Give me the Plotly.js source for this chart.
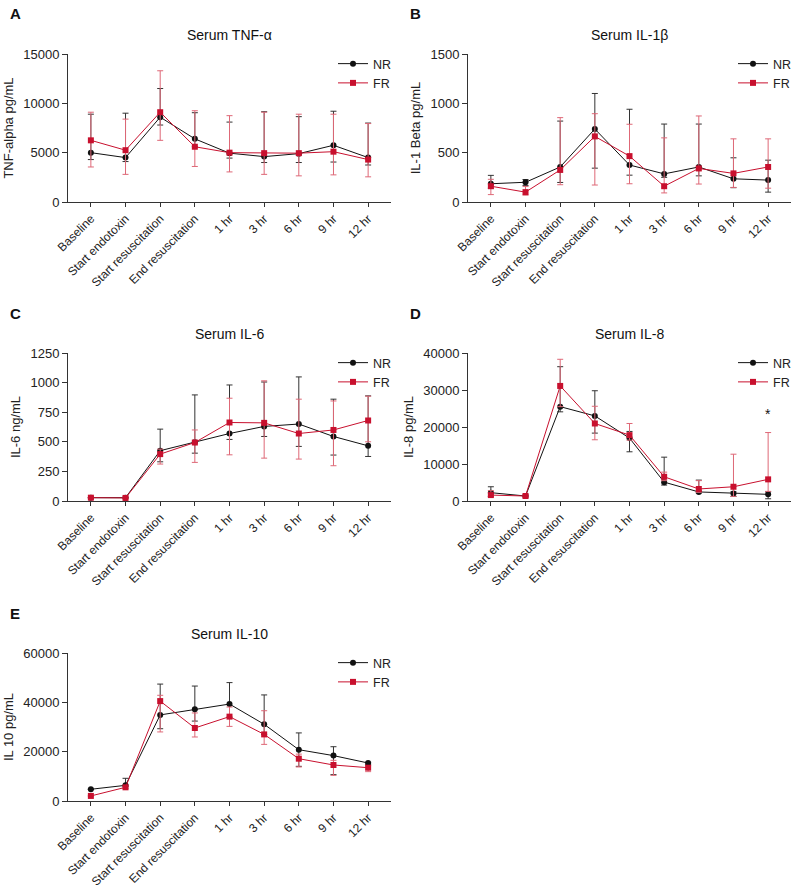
<!DOCTYPE html>
<html>
<head>
<meta charset="utf-8">
<script src="https://cdn.plot.ly/plotly-3.0.1.min.js"></script>
<style>
  html, body { margin: 0; padding: 0; background: #fff; }
  #grafica { width: 800px; height: 890px; }
</style>
</head>
<body>
<div id="grafica"></div>
<script>
// ---------- Datos ----------
const tiempos = ["Baseline", "Start endotoxin", "Start resuscitation", "End resuscitation",
                 "1 hr", "3 hr", "6 hr", "9 hr", "12 hr"];

// Serum TNF-alpha
const tnfNR      = [5000, 4500, 8600, 6400, 4950, 4600, 4900, 5750, 4500];
const tnfNRalto  = [8900, 9000, 11500, 9050, 8100, 9150, 8650, 9200, 8000];
const tnfNRbajo  = [4300, 4100, 7800, 5600, 4450, 4000, 4000, 4050, 3750];
const tnfFR      = [6250, 5250, 9100, 5600, 5000, 4950, 4950, 5100, 4300];
const tnfFRalto  = [9100, 8400, 13300, 9250, 8750, 9100, 8900, 8900, 7950];
const tnfFRbajo  = [3550, 2800, 6250, 3600, 3050, 2800, 2650, 2750, 2550];

// Serum IL-1 beta
const il1NR      = [185, 200, 355, 740, 375, 285, 355, 235, 222];
const il1NRalto  = [270, 228, 820, 1100, 940, 790, 790, 448, 424];
const il1NRbajo  = [140, 168, 198, 343, 272, 250, 265, 145, 100];
const il1FR      = [160, 100, 325, 665, 465, 160, 340, 290, 355];
const il1FRalto  = [230, 158, 855, 895, 788, 650, 872, 640, 640];
const il1FRbajo  = [75, 70, 175, 172, 185, 92, 182, 148, 140];

// Serum IL-6
const il6NR      = [28, 28, 425, 497, 570, 630, 650, 545, 466];
const il6NRalto  = [28, 28, 607, 896, 980, 1005, 1048, 860, 888];
const il6NRbajo  = [28, 28, 331, 404, 520, 545, 461, 388, 376];
const il6FR      = [28, 26, 396, 494, 663, 660, 570, 600, 680];
const il6FRalto  = [28, 26, 438, 600, 868, 1015, 860, 845, 885];
const il6FRbajo  = [28, 26, 312, 326, 390, 362, 354, 298, 500];

// Serum IL-8
const il8NR      = [2250, 1350, 25500, 23000, 17000, 5100, 2450, 2050, 1800];
const il8NRalto  = [3850, 1600, 36300, 29800, 18800, 11850, 5650, 2500, 2500];
const il8NRbajo  = [1250, 1100, 24100, 18350, 13300, 4300, 2150, 1250, 600];
const il8FR      = [1600, 1350, 31100, 20950, 17800, 6550, 3250, 3850, 5850];
const il8FRalto  = [2800, 1600, 38300, 25600, 20950, 7800, 5500, 12650, 18500];
const il8FRbajo  = [1250, 1100, 25500, 16550, 16450, 5500, 2350, 1250, 2600];

// Serum IL-10
const il10NR     = [4750, 6350, 34900, 37150, 39300, 31100, 20800, 18400, 15400];
const il10NRalto = [4750, 9200, 47400, 46600, 48000, 43000, 27600, 22000, 15700];
const il10NRbajo = [4750, 5800, 29300, 32400, 34000, 27000, 14050, 10700, 14900];
const il10FR     = [2050, 5550, 40500, 29600, 34200, 27000, 17150, 14600, 13500];
const il10FRalto = [2050, 6000, 42850, 35700, 38100, 36600, 19000, 16500, 14350];
const il10FRbajo = [2050, 5100, 28000, 25950, 30250, 22950, 13800, 10400, 11900];

const titulos   = ["Serum TNF-\u03b1", "Serum IL-1\u03b2", "Serum IL-6", "Serum IL-8", "Serum IL-10"];
const ejesY     = ["TNF-alpha pg/mL", "IL-1 Beta pg/mL", "IL-6 ng/mL", "IL-8 pg/mL", "IL 10 pg/mL"];
const letras    = ["A", "B", "C", "D", "E"];
const rangosY   = [[0, 15000], [0, 1500], [0, 1250], [0, 40000], [0, 60000]];
const pasosY    = [5000, 500, 250, 10000, 20000];

const series = [
  [tnfNR, tnfNRalto, tnfNRbajo, tnfFR, tnfFRalto, tnfFRbajo],
  [il1NR, il1NRalto, il1NRbajo, il1FR, il1FRalto, il1FRbajo],
  [il6NR, il6NRalto, il6NRbajo, il6FR, il6FRalto, il6FRbajo],
  [il8NR, il8NRalto, il8NRbajo, il8FR, il8FRalto, il8FRbajo],
  [il10NR, il10NRalto, il10NRbajo, il10FR, il10FRalto, il10FRbajo]
];

// ---------- Layout ----------
const W = 800, H = 890;
const colX = [[68, 391], [468, 791]];
const filaY = [[54, 202], [353, 501], [653, 801]];

const fuente = "Liberation Sans, Arial, Helvetica, sans-serif";
const negro = "#111111";
const rojo = "#c8102e";

let trazas = [];
let layout = {
  width: W, height: H,
  margin: {l: 0, r: 0, t: 0, b: 0},
  paper_bgcolor: "#fff",
  plot_bgcolor: "#fff",
  font: {family: fuente, size: 13, color: "#222"},
  annotations: [],
  showlegend: true
};

function menos(a, b){ return a.map((v, i) => v - b[i]); }

for (let p = 0; p < 5; p++) {
  const col = p % 2, fila = Math.floor(p / 2);
  const sx = p === 0 ? "" : String(p + 1);
  const leg = p === 0 ? "legend" : "legend" + (p + 1);
  const [m1, a1, b1, m2, a2, b2] = series[p];

  trazas.push({
    x: tiempos, y: m1, name: "NR", type: "scatter", mode: "lines+markers",
    xaxis: "x" + sx, yaxis: "y" + sx, legend: leg,
    line: {color: negro, width: 1},
    marker: {symbol: "circle", size: 6, color: negro},
    error_y: {type: "data", symmetric: false, array: menos(a1, m1), arrayminus: menos(m1, b1),
              color: "#333", thickness: 1, width: 3}
  });
  trazas.push({
    x: tiempos, y: m2, name: "FR", type: "scatter", mode: "lines+markers",
    xaxis: "x" + sx, yaxis: "y" + sx, legend: leg,
    line: {color: rojo, width: 1},
    marker: {symbol: "square", size: 6, color: rojo},
    error_y: {type: "data", symmetric: false, array: menos(a2, m2), arrayminus: menos(m2, b2),
              color: "#de6877", thickness: 1, width: 3}
  });

  const [x0, x1] = colX[col];
  const [y0, y1] = filaY[fila];

  layout["xaxis" + sx] = {
    domain: [x0 / W, x1 / W], anchor: "y" + sx,
    type: "category", range: [-0.66, 8.66],
    showline: true, linecolor: "#333", linewidth: 1,
    ticks: "outside", ticklen: 4, tickcolor: "#333",
    tickangle: -45, showgrid: false, zeroline: false,
    tickfont: {size: 12, color: "#222"}
  };
  layout["yaxis" + sx] = {
    domain: [1 - y1 / H, 1 - y0 / H], anchor: "x" + sx,
    range: rangosY[p], dtick: pasosY[p], tick0: 0, tickformat: "d",
    showline: true, linecolor: "#333", linewidth: 1,
    ticks: "outside", ticklen: 5, tickcolor: "#333",
    showgrid: false, zeroline: false,
    tickfont: {size: 13, color: "#222"},
    title: {text: ejesY[p], font: {size: 13, color: "#222"}, standoff: 6}
  };
  layout[leg] = {
    x: (x1 + 6) / W, xanchor: "right",
    y: 1 - (y0 - 5) / H, yanchor: "top",
    bgcolor: "rgba(0,0,0,0)", borderwidth: 0,
    font: {size: 12.5, color: "#222"},
    itemwidth: 30, tracegroupgap: 0
  };

  layout.annotations.push({
    text: titulos[p], xref: "paper", yref: "paper",
    x: (x0 + x1) / 2 / W, y: 1 - (y0 - 19) / H,
    xanchor: "center", yanchor: "middle", showarrow: false,
    font: {size: 14, color: "#111"}
  });
  layout.annotations.push({
    text: "<b>" + letras[p] + "</b>", xref: "paper", yref: "paper",
    x: (col === 0 ? 8 : 408) / W, y: 1 - (y0 - 40) / H,
    xanchor: "left", yanchor: "middle", showarrow: false,
    font: {size: 15, color: "#111"}
  });
}

// asterisco en IL-8, 12 hr
layout.annotations.push({
  text: "*", xref: "x4", yref: "y4", x: tiempos[8], y: 23500,
  showarrow: false, font: {size: 14, color: "#111"}
});

Plotly.newPlot("grafica", trazas, layout, {displayModeBar: false, responsive: false});
</script>
</body>
</html>
